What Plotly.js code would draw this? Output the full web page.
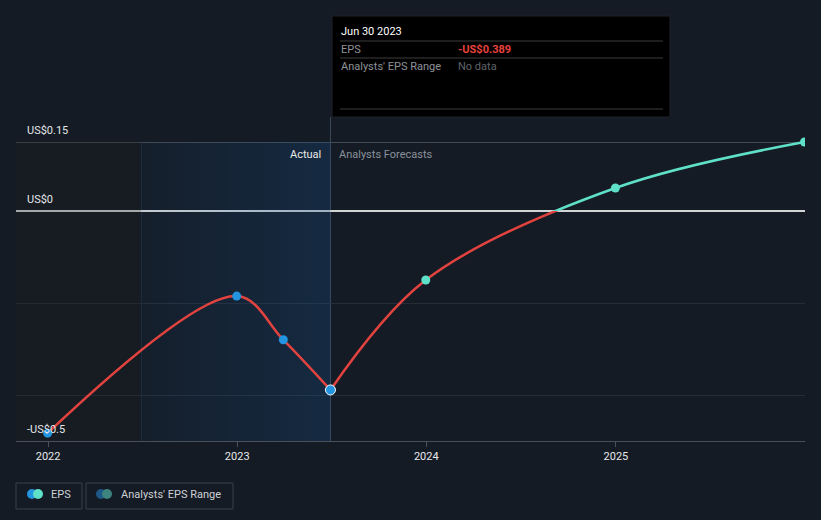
<!DOCTYPE html>
<html>
<head>
<meta charset="utf-8">
<script src="https://cdn.plot.ly/plotly-3.0.1.min.js"></script>
<style>
html,body{margin:0;padding:0;background:#151b24;}
#chart{width:821px;height:520px;}
</style>
</head>
<body>
<div id="chart"></div>
<script>
// ---- data ----
const actualDates = ['2021-12-31', '2022-12-31', '2023-03-31', '2023-06-30'];
const actualEps = [-0.483, -0.185, -0.280, -0.389];
const forecastDates = ['2023-06-30', '2023-12-31', '2024-12-31', '2025-12-31'];
const forecastEps = [-0.389, -0.150, 0.050, 0.150];
const xTickVals = ['2022-01-01', '2023-01-01', '2024-01-01', '2025-01-01'];
const xTickText = ['2022', '2023', '2024', '2025'];
const yLabelVals = [0.15, 0, -0.5];
const yLabelText = ['US$0.15', 'US$0', '-US$0.5'];
const yGridMinor = [-0.4, -0.2];
const pastStart = '2021-10-31';
const actualStart = '2022-06-30';
const actualEnd = '2023-06-30';
const xRange = ['2021-10-31', '2026-01-01'];
const yRange = [-0.5, 0.437];
const tooltipDate = 'Jun 30 2023';

// ---- layout helpers ----
const W = 821, H = 520, L = 16, R = 16, T = 10, B = 79;
const PW = W - L - R, PH = H - T - B;
const px = v => (v - L) / PW;
const py = v => (H - B - v) / PH;
const zeroFrac = (0 - yRange[0]) / (yRange[1] - yRange[0]);

const FONT = 'Roboto, "Open Sans", "DejaVu Sans", sans-serif';
const RED = '#e2433f', TEAL = '#5fe0c9', BLUE = '#2394df';

const fmt = v => (v < 0 ? '-' : '') + 'US$' + Math.abs(v).toFixed(3);
const lastA = actualDates.length - 1;

const traces = [
  { // earlier period region
    type: 'scatter', x: [pastStart, actualStart, actualStart, pastStart, pastStart],
    y: [yRange[0], yRange[0], 0.15, 0.15, yRange[0]], fill: 'toself', mode: 'none',
    fillcolor: 'rgba(30,30,30,0.25)', hoverinfo: 'skip', showlegend: false, xaxis: 'x', yaxis: 'y'
  },
  { // actual (last year) highlighted region
    type: 'scatter', x: [actualStart, actualEnd, actualEnd, actualStart, actualStart],
    y: [yRange[0], yRange[0], 0.15, 0.15, yRange[0]], fill: 'toself', mode: 'none',
    fillcolor: 'rgba(20,80,140,0.18)',
    fillgradient: { type: 'horizontal', colorscale: [[0, 'rgba(20,80,140,0.07)'], [1, 'rgba(20,80,140,0.28)']] },
    hoverinfo: 'skip', showlegend: false, xaxis: 'x', yaxis: 'y'
  },
  { // actual EPS line
    type: 'scatter', mode: 'lines', x: actualDates, y: actualEps,
    line: { color: RED, width: 2.5, shape: 'spline' }, hoverinfo: 'skip', showlegend: false,
    xaxis: 'x', yaxis: 'y'
  },
  { // forecast, positive part (teal)
    type: 'scatter', mode: 'lines', x: forecastDates, y: forecastEps,
    line: { color: TEAL, width: 2.5, shape: 'spline' }, hoverinfo: 'skip', showlegend: false,
    xaxis: 'x', yaxis: 'y2'
  },
  { // forecast, negative part (red)
    type: 'scatter', mode: 'lines', x: forecastDates, y: forecastEps,
    line: { color: RED, width: 2.5, shape: 'spline' }, hoverinfo: 'skip', showlegend: false,
    xaxis: 'x', yaxis: 'y3'
  },
  { // actual markers
    type: 'scatter', mode: 'markers', x: actualDates.slice(0, lastA), y: actualEps.slice(0, lastA),
    marker: { color: BLUE, size: 9 },
    hoverinfo: 'skip', showlegend: false, xaxis: 'x', yaxis: 'y4'
  },
  { // highlighted (hovered) actual marker
    type: 'scatter', mode: 'markers', x: [actualDates[lastA]], y: [actualEps[lastA]],
    marker: { color: BLUE, size: 10, line: { color: '#ffffff', width: 1 } },
    hoverinfo: 'skip', showlegend: false, xaxis: 'x', yaxis: 'y4'
  },
  { // forecast markers
    type: 'scatter', mode: 'markers', x: forecastDates.slice(1), y: forecastEps.slice(1),
    marker: { color: TEAL, size: 9 }, hoverinfo: 'skip', showlegend: false, xaxis: 'x', yaxis: 'y4'
  }
];

const hiddenY = (extra) => Object.assign({
  anchor: 'x', showgrid: false, zeroline: false, showticklabels: false, showline: false, ticks: '', fixedrange: true
}, extra);

const shapes = [
  { type: 'line', xref: 'x', yref: 'y', x0: actualStart, x1: actualStart, y0: yRange[0], y1: 0.15,
    line: { color: 'rgba(40,70,100,0.5)', width: 1 }, layer: 'below' },
  { type: 'line', xref: 'x', yref: 'paper', x0: actualEnd, x1: actualEnd, y0: 0, y1: py(117),
    line: { color: '#3b4a5a', width: 1 }, layer: 'below' },
  { type: 'rect', xref: 'paper', yref: 'paper', x0: px(332), x1: px(670), y0: py(117), y1: py(16),
    fillcolor: '#000000', line: { color: '#1e2228', width: 1 } },
  { type: 'line', xref: 'paper', yref: 'paper', x0: px(340), x1: px(663), y0: py(41), y1: py(41), line: { color: '#3c3c3c', width: 1 } },
  { type: 'line', xref: 'paper', yref: 'paper', x0: px(340), x1: px(663), y0: py(58), y1: py(58), line: { color: '#3c3c3c', width: 1 } },
  { type: 'line', xref: 'paper', yref: 'paper', x0: px(340), x1: px(663), y0: py(109), y1: py(109), line: { color: '#3c3c3c', width: 1 } },
  { type: 'rect', xref: 'paper', yref: 'paper', x0: px(16), x1: px(82), y0: py(509), y1: py(483),
    fillcolor: 'rgba(0,0,0,0)', line: { color: '#3a4049', width: 1 } },
  { type: 'rect', xref: 'paper', yref: 'paper', x0: px(86), x1: px(233), y0: py(509), y1: py(483),
    fillcolor: 'rgba(0,0,0,0)', line: { color: '#3a4049', width: 1 } },
  { type: 'circle', xref: 'paper', yref: 'paper', x0: px(27), x1: px(37), y0: py(499), y1: py(489), fillcolor: BLUE, line: { width: 0 } },
  { type: 'circle', xref: 'paper', yref: 'paper', x0: px(33), x1: px(43), y0: py(499), y1: py(489), fillcolor: TEAL, line: { width: 0 } },
  { type: 'circle', xref: 'paper', yref: 'paper', x0: px(96), x1: px(106), y0: py(499), y1: py(489), fillcolor: '#1d5886', line: { width: 0 } },
  { type: 'circle', xref: 'paper', yref: 'paper', x0: px(102), x1: px(112), y0: py(499), y1: py(489), fillcolor: '#3d837e', line: { width: 0 } }
];

const annotations = [];
yLabelVals.forEach((v, i) => {
  annotations.push({ xref: 'paper', yref: 'y', x: px(25), y: v, xanchor: 'left', yanchor: 'bottom', yshift: 3,
    text: yLabelText[i], showarrow: false, font: { family: FONT, size: 11, color: '#e4e6e9' } });
});
annotations.push(
  { xref: 'x', yref: 'y', x: actualEnd, y: 0.15, xanchor: 'right', yanchor: 'top', xshift: -7, yshift: -4,
    text: 'Actual', showarrow: false, font: { family: FONT, size: 11, color: '#e8e8e8' } },
  { xref: 'x', yref: 'y', x: actualEnd, y: 0.15, xanchor: 'left', yanchor: 'top', xshift: 7, yshift: -4,
    text: 'Analysts Forecasts', showarrow: false, font: { family: FONT, size: 11, color: '#8a929b' } },
  { xref: 'paper', yref: 'paper', x: px(339), y: py(31), xanchor: 'left', yanchor: 'middle',
    text: tooltipDate, showarrow: false, font: { family: FONT, size: 11, color: '#ffffff' } },
  { xref: 'paper', yref: 'paper', x: px(339), y: py(49), xanchor: 'left', yanchor: 'middle',
    text: 'EPS', showarrow: false, font: { family: FONT, size: 11, color: '#8e9297' } },
  { xref: 'paper', yref: 'paper', x: px(456), y: py(49), xanchor: 'left', yanchor: 'middle',
    text: '<b>' + fmt(actualEps[lastA]) + '</b>', showarrow: false, font: { family: FONT, size: 11, color: '#e8403c' } },
  { xref: 'paper', yref: 'paper', x: px(339), y: py(66), xanchor: 'left', yanchor: 'middle',
    text: "Analysts' EPS Range", showarrow: false, font: { family: FONT, size: 11, color: '#8e9297' } },
  { xref: 'paper', yref: 'paper', x: px(456), y: py(66), xanchor: 'left', yanchor: 'middle',
    text: 'No data', showarrow: false, font: { family: FONT, size: 11, color: '#5f6368' } },
  { xref: 'paper', yref: 'paper', x: px(49), y: py(494), xanchor: 'left', yanchor: 'middle',
    text: 'EPS', showarrow: false, font: { family: FONT, size: 11, color: '#cdd1d6' } },
  { xref: 'paper', yref: 'paper', x: px(119), y: py(494), xanchor: 'left', yanchor: 'middle',
    text: "Analysts' EPS Range", showarrow: false, font: { family: FONT, size: 11, color: '#cdd1d6' } }
);

const layout = {
  width: W, height: H,
  margin: { l: L, r: R, t: T, b: B, pad: 0 },
  paper_bgcolor: '#151b24',
  plot_bgcolor: 'rgba(0,0,0,0)',
  font: { family: FONT, size: 11, color: '#e4e6e9' },
  showlegend: false,
  hovermode: false,
  xaxis: {
    type: 'date', range: xRange, domain: [0, 1], anchor: 'y',
    tickmode: 'array', tickvals: xTickVals, ticktext: xTickText,
    tickfont: { family: FONT, size: 11, color: '#e6e8ea' },
    ticks: 'outside', ticklen: 5, tickcolor: '#4a5059', tickwidth: 1,
    showline: true, linecolor: '#4a5059', linewidth: 1,
    showgrid: false, zeroline: false, fixedrange: true
  },
  yaxis: {
    range: yRange, domain: [0, 1], anchor: 'x',
    tickmode: 'array', tickvals: [0.15], showticklabels: false, ticks: '',
    showgrid: true, gridcolor: '#444a52', gridwidth: 1,
    minor: { tickmode: 'array', tickvals: yGridMinor, showgrid: true, gridcolor: '#262d37', gridwidth: 1, ticks: '' },
    zeroline: true, zerolinecolor: '#d2d4d6', zerolinewidth: 1.5,
    showline: false, fixedrange: true
  },
  yaxis2: hiddenY({ domain: [zeroFrac, 1], range: [0, yRange[1]] }),
  yaxis3: hiddenY({ domain: [0, zeroFrac], range: [yRange[0], 0] }),
  yaxis4: hiddenY({ domain: [0, 1], range: yRange }),
  shapes: shapes,
  annotations: annotations
};

Plotly.newPlot('chart', traces, layout, { displayModeBar: false, staticPlot: true });
</script>
</body>
</html>
